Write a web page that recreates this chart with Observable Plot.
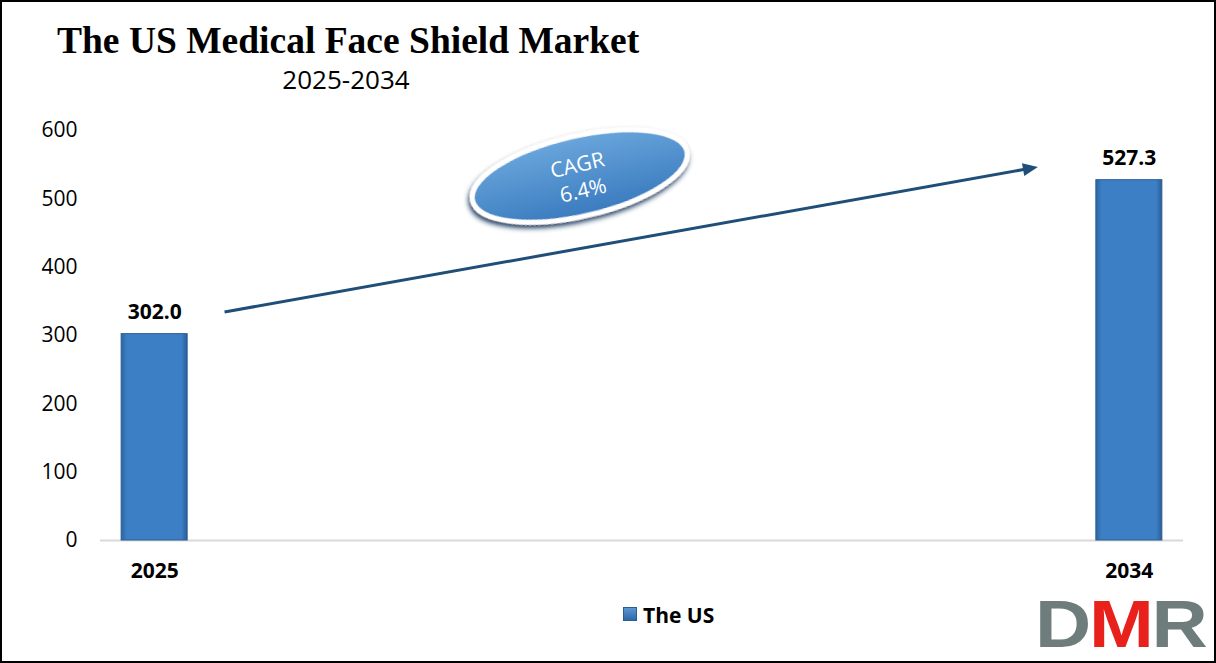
<!DOCTYPE html>
<html>
<head>
<meta charset="utf-8">
<script src="https://cdn.jsdelivr.net/npm/d3@7"></script>
<script src="https://cdn.jsdelivr.net/npm/@observablehq/plot@0.6"></script>
<style>
  html, body { margin: 0; padding: 0; background: #fff; }
  #wrap { position: relative; width: 1216px; height: 663px; overflow: hidden; background: #fff; }
  #frame { position: absolute; left: 0; top: 0; width: 1216px; height: 663px; box-sizing: border-box; border: 2px solid #000; pointer-events: none; z-index: 5; }
  #header { position: relative; height: 100px; }
  #title { position: absolute; left: 57px; top: 22px; font-family: "Liberation Serif", "Times New Roman", serif; font-weight: bold; font-size: 37.5px; line-height: 37px; white-space: nowrap; color: #000; }
  #subtitle { position: absolute; left: 246px; width: 200px; text-align: center; top: 67px; font-family: "Open Sans", sans-serif; font-size: 26px; line-height: 24px; color: #000; }
  #chart svg { display: block; }
  #legend { position: relative; height: 63px; font-family: "Open Sans", sans-serif; }
  #legend .swatch { position: absolute; left: 623px; top: 7px; width: 14px; height: 14px; box-sizing: border-box; background: linear-gradient(#5a97d3, #2f6aa6); border: 1px solid #2a5d92; }
  #legend .label { position: absolute; left: 643px; top: 1px; font-weight: bold; font-size: 21px; line-height: 28px; color: #000; }
  #logo { position: absolute; left: 1035px; top: -4px; font-family: "Liberation Sans", Arial, sans-serif; font-weight: bold; font-size: 66px; line-height: 56px; letter-spacing: -2px; white-space: nowrap; transform: scaleX(1.18); transform-origin: left center; }
</style>
</head>
<body>
<div id="wrap">
  <div id="header">
    <div id="title"></div>
    <div id="subtitle"></div>
  </div>
  <div id="chart"></div>
  <div id="legend">
    <div class="swatch"></div>
    <div class="label"></div>
    <div id="logo"><span style="color:#6e7c7b">D</span><span style="color:#e8211c">M</span><span style="color:#6e7c7b">R</span></div>
  </div>
  <div id="frame"></div>
</div>
<script>
// ---- data ----
const titleText = "The US Medical Face Shield Market";
const subtitleText = "2025-2034";
const seriesName = "The US";
const years = [2025, 2034];
const values = [302.0, 527.3];
const yTicks = [0, 100, 200, 300, 400, 500, 600];
const cagrLines = ["CAGR", "6.4%"];
// annotation anchors in data units [year, value]
const arrowFrom = [2025.65, 333.7];
const arrowTo = [2033.16, 545.9];
const badgeAt = [2028.93, 532.7];

document.getElementById("title").textContent = titleText;
document.getElementById("subtitle").textContent = subtitleText;
document.querySelector("#legend .label").textContent = seriesName;

const data = years.map((year, i) => ({year, value: values[i]}));

function defsMark() {
  const defs = d3.create("svg:defs");
  const bg = defs.append("linearGradient").attr("id", "barGrad").attr("x1", 0).attr("x2", 1).attr("y1", 0).attr("y2", 0);
  bg.append("stop").attr("offset", "0%").attr("stop-color", "#2b66a3");
  bg.append("stop").attr("offset", "9%").attr("stop-color", "#3d7fc5");
  bg.append("stop").attr("offset", "91%").attr("stop-color", "#3d7fc5");
  bg.append("stop").attr("offset", "100%").attr("stop-color", "#285e98");
  const eg = defs.append("linearGradient").attr("id", "badgeGrad").attr("x1", 0).attr("x2", 0).attr("y1", 0).attr("y2", 1);
  eg.append("stop").attr("offset", "0%").attr("stop-color", "#6aa6dc");
  eg.append("stop").attr("offset", "100%").attr("stop-color", "#3a7bbf");
  const f = defs.append("filter").attr("id", "badgeShadow").attr("x", "-30%").attr("y", "-60%").attr("width", "160%").attr("height", "220%");
  f.append("feDropShadow").attr("dx", -2).attr("dy", 3).attr("stdDeviation", 2.5).attr("flood-color", "#17355c").attr("flood-opacity", 0.95);
  return defs.node();
}

function arrowMark(index, scales) {
  const x1 = scales.x(arrowFrom[0]), y1 = scales.y(arrowFrom[1]);
  const x2 = scales.x(arrowTo[0]), y2 = scales.y(arrowTo[1]);
  const a = Math.atan2(y2 - y1, x2 - x1), c = Math.cos(a), s = Math.sin(a);
  const L = 15, W = 6.5;
  const bx = x2 - L * c, by = y2 - L * s;
  const g = d3.create("svg:g");
  g.append("line").attr("x1", x1).attr("y1", y1).attr("x2", bx + 2 * c).attr("y2", by + 2 * s)
    .attr("stroke", "#1f4e79").attr("stroke-width", 3);
  g.append("polygon").attr("points", [[x2, y2], [bx - W * s, by + W * c], [bx + W * s, by - W * c]].map(p => p.join(",")).join(" "))
    .attr("fill", "#1f4e79");
  return g.node();
}

function badgeMark(index, scales) {
  const cx = scales.x(badgeAt[0]), cy = scales.y(badgeAt[1]);
  const g = d3.create("svg:g").attr("transform", `translate(${cx},${cy}) rotate(-13)`);
  g.append("ellipse").attr("rx", 110).attr("ry", 40)
    .attr("fill", "url(#badgeGrad)").attr("stroke", "#fff").attr("stroke-width", 5)
    .attr("filter", "url(#badgeShadow)");
  g.append("text").attr("text-anchor", "middle").attr("y", -4)
    .attr("font-family", "Open Sans, sans-serif").attr("font-size", 21).attr("fill", "#fff")
    .text(cagrLines[0]);
  g.append("text").attr("text-anchor", "middle").attr("y", 22)
    .attr("font-family", "Open Sans, sans-serif").attr("font-size", 21).attr("fill", "#fff")
    .text(cagrLines[1]);
  return g.node();
}

const chart = Plot.plot({
  width: 1216,
  height: 500,
  marginLeft: 100,
  marginRight: 33,
  marginTop: 30,
  marginBottom: 60,
  style: {fontFamily: "Open Sans, sans-serif", fontSize: "21px", color: "#000", background: "transparent", overflow: "visible"},
  x: {domain: [2024.5, 2034.5]},
  y: {domain: [0, 600]},
  marks: [
    defsMark,
    Plot.axisY({ticks: yTicks, tickSize: 0, tickPadding: 23, fontSize: 21, label: null}),
    Plot.axisX({ticks: years, tickFormat: d => String(d), tickSize: 0, tickPadding: 23, fontSize: 21, fontWeight: "bold", label: null}),
    Plot.ruleY([0], {stroke: "#d9d9d9", strokeWidth: 2}),
    Plot.rectY(data, {x1: "year", x2: "year", y: "value", insetLeft: -33, insetRight: -33,
      fill: "url(#barGrad)", stroke: "#2a5d92", strokeWidth: 1}),
    Plot.text(data, {x: "year", y: "value", text: d => d.value.toFixed(1), dy: -22, fontSize: 21, fontWeight: "bold", fill: "#000"}),
    arrowMark,
    badgeMark
  ]
});
document.getElementById("chart").appendChild(chart);
</script>
</body>
</html>
